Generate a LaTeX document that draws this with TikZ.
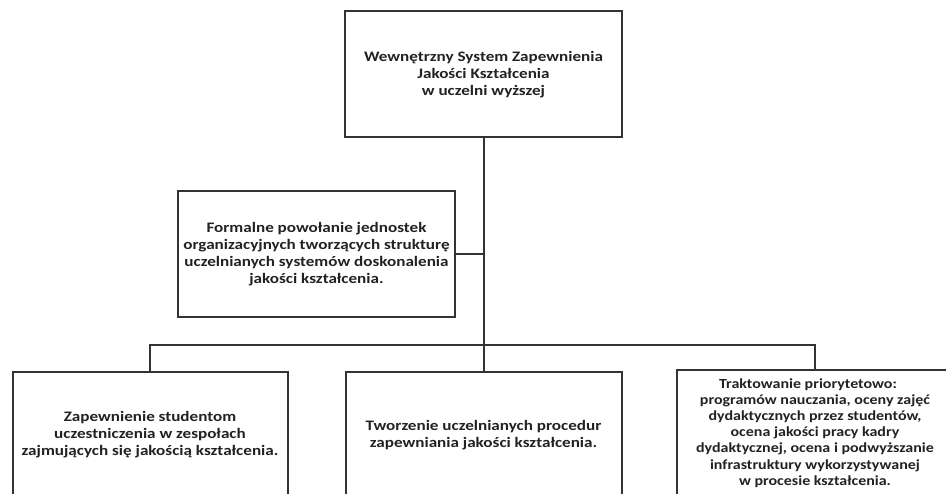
\documentclass[tikz,border=0pt]{standalone}
\usepackage{fontspec}
\setmainfont{Carlito}
\newfontfamily\boxfont{Carlito}[FakeStretch=1.18]
\newfontfamily\smallboxfont{Carlito}[FakeStretch=1.15]
\begin{document}
\begin{tikzpicture}[x=1pt,y=-1pt,
  box/.style={draw=linec, line width=2pt, fill=white, text=textc, font=\boxfont\bfseries\fontsize{14.5}{17}\selectfont, align=center, inner sep=0pt, minimum width=#1, minimum height=126},
  box/.default=277,
  smalltext/.style={font=\smallboxfont\bfseries\fontsize{13.9}{16.2}\selectfont},
  conn/.style={draw=linec, line width=2pt}]
\definecolor{linec}{HTML}{333333}
\definecolor{textc}{HTML}{222222}
\useasboundingbox (0,0) rectangle (946,494);
\clip (0,0) rectangle (946,494);
\fill[white] (0,0) rectangle (946,494);
\node[box] (top) at (483.5,74.5) {Wewnętrzny System Zapewnienia\\Jakości Kształcenia\\w uczelni wyższej};
\node[box] (formal) at (316.5,254.5) {Formalne powołanie jednostek\\organizacyjnych tworzących strukturę\\uczelnianych systemów doskonalenia\\jakości kształcenia.};
\node[box=275] (left) at (150,435) {Zapewnienie studentom\\uczestniczenia w zespołach\\zajmujących się jakością kształcenia.};
\node[box=276] (mid) at (483.5,435) {Tworzenie uczelnianych procedur\\zapewniania jakości kształcenia.};
\node[box=276, smalltext] (right) at (815,433) {Traktowanie priorytetowo:\hspace*{14pt}\\programów nauczania, oceny zajęć\\dydaktycznych przez studentów,\\ocena jakości pracy kadry\\dydaktycznej, ocena i podwyższanie\\infrastruktury wykorzystywanej\hspace*{20pt}\\w procesie kształcenia.};
\coordinate (bus) at (483.5,345);
\draw[conn] (top.south) -- (mid.north);
\draw[conn] (formal.east) -- (formal.east -| top.south);
\draw[conn] (left.north) |- (bus) -| (right.north);
\end{tikzpicture}
\end{document}
